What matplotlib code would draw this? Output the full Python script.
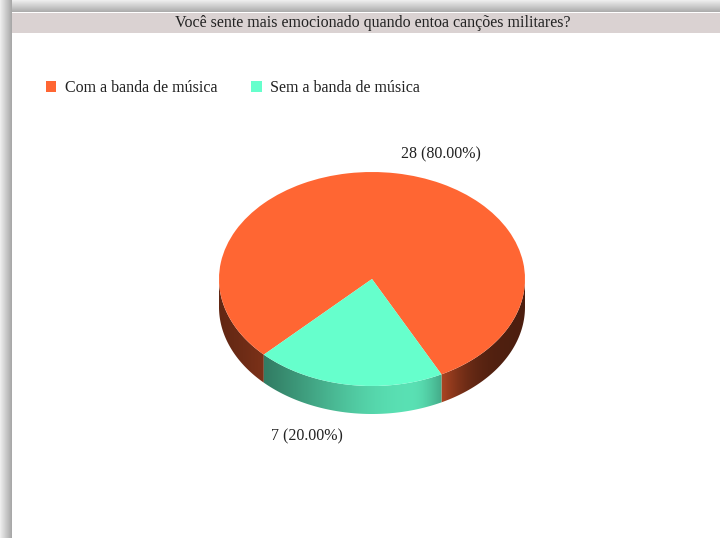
"""
Pseudo-3D pie chart: Você sente mais emocionado quando entoa canções militares?
"""

import numpy as np
import matplotlib

matplotlib.use("Agg")
import matplotlib.pyplot as plt
from matplotlib.colors import to_rgb
from matplotlib.patches import Patch, Polygon, Rectangle

TITLE = "Você sente mais emocionado quando entoa canções militares?"
CATEGORIES = ["Com a banda de música", "Sem a banda de música"]
COUNTS = [28, 7]
COLORS = ["#ff6633", "#66ffcc"]

W, H = 720, 538
CX, CY = 372, 279          # centre of the top face, px from top-left
RX, RY = 153, 107          # half axes of the top face, px
DEPTH = 28 / RY            # thickness of the pie in y data units
START = 297
FS = 11.5
TEXT_COLOR = "#222222"

plt.rcParams["font.family"] = ["Liberation Serif", "DejaVu Serif"]


def shade(u):
    """Brightness factor for the cylinder side at normalised x position u."""
    w = np.where(u < 0.25, 0.9, 0.3)
    return 0.3 + 0.58 * np.exp(-((u - 0.25) / w) ** 2)


def front_ranges(t1, t2):
    """Parts of the angle range [t1, t2] that face the viewer."""
    out = []
    for k in (-360, 0, 360):
        lo = max(t1, 180 + k)
        hi = min(t2, 360 + k)
        if hi > lo:
            out.append((lo, hi))
    return out


fig = plt.figure(figsize=(W / 100, H / 100), dpi=100)

# Frame, shadow and title bar
ax_bg = fig.add_axes([0, 0, 1, 1], zorder=0)
ax_bg.set_xlim(0, W)
ax_bg.set_ylim(H, 0)
ax_bg.axis("off")
top_band = np.linspace(0.93, 0.68, 12)[:, None, None].repeat(3, axis=2)
ax_bg.imshow(top_band, extent=(0, W, 12, 0), aspect="auto", interpolation="bilinear")
left_band = np.linspace(0.93, 0.66, 12)[None, :, None].repeat(3, axis=2)
ax_bg.imshow(left_band, extent=(0, 12, H, 0), aspect="auto", interpolation="bilinear")
ax_bg.add_patch(Rectangle((12, 13), W - 12, 20, facecolor="#dad2d2", edgecolor="none"))
ax_bg.set_xlim(0, W)
ax_bg.set_ylim(H, 0)
ax_bg.text(373, 23, TITLE, ha="center", va="center", fontsize=FS, color=TEXT_COLOR)

# Pie
ax = fig.add_axes([0, 0, 1, 1], zorder=1)
ax.patch.set_alpha(0)
total = sum(COUNTS)
labels = [f"{v} ({v / total * 100:.2f}%)" for v in COUNTS]
wedges, texts = ax.pie(
    COUNTS,
    colors=COLORS,
    startangle=START,
    labels=labels,
    labeldistance=1.2,
    wedgeprops=dict(linewidth=0, zorder=3),
    textprops=dict(fontsize=FS, color=TEXT_COLOR),
)
for t in texts:
    x, y = t.get_position()
    if y < 0:
        t.set_position((x, y - DEPTH - 3 / RY))
    else:
        t.set_position((x, y - 2 / RY))

# Side of the cylinder
u = np.linspace(-1, 1, 400)
for w, color in zip(wedges, COLORS):
    base = np.array(to_rgb(color))
    img = (base[None, :] * shade(u)[:, None])[None, :, :]
    for lo, hi in front_ranges(w.theta1, w.theta2):
        t = np.radians(np.linspace(lo, hi, 120))
        x, y = np.cos(t), np.sin(t)
        verts = np.concatenate([np.c_[x, y], np.c_[x[::-1], y[::-1] - DEPTH]])
        poly = Polygon(verts, closed=True, facecolor="none", edgecolor="none")
        ax.add_patch(poly)
        im = ax.imshow(img, extent=(-1, 1, -1 - DEPTH, 0), aspect="auto",
                       interpolation="bilinear", zorder=2)
        im.set_clip_path(poly)

ax.set_aspect("auto")
ax.set_xlim(-CX / RX, (W - CX) / RX)
ax.set_ylim(-(H - CY) / RY, CY / RY)
ax.axis("off")

fig.legend(
    handles=[Patch(facecolor=c, edgecolor="none", label=l) for c, l in zip(COLORS, CATEGORIES)],
    loc="center left",
    bbox_to_anchor=(46 / W, 1 - 88 / H),
    ncol=2,
    frameon=False,
    borderpad=0,
    borderaxespad=0,
    handlelength=0.65,
    handleheight=0.65,
    handletextpad=0.55,
    columnspacing=2.1,
    prop=dict(size=FS),
    labelcolor=TEXT_COLOR,
)

fig.savefig("out.png", dpi=100)
